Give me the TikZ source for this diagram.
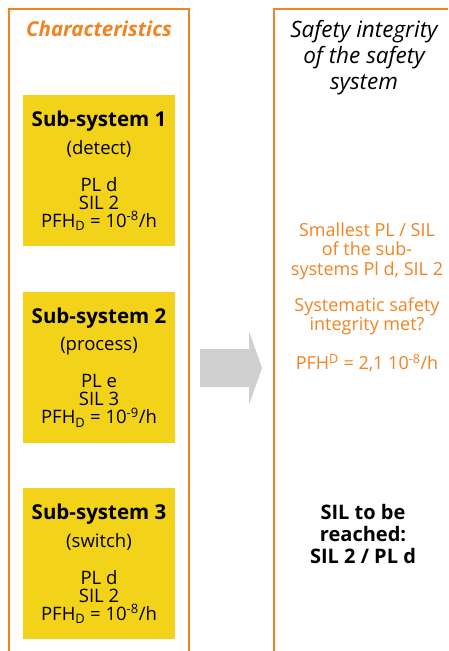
\documentclass[tikz,border=0pt]{standalone}
\usepackage{fontspec}
\setmainfont{Open Sans}
\definecolor{sysorange}{RGB}{243,130,32}
\definecolor{sysyellow}{RGB}{243,210,26}
\definecolor{arrowgray}{RGB}{208,208,208}

\begin{document}
\begin{tikzpicture}[x=1pt, y=-1pt,
    panel/.style={draw=sysorange, line width=1.6pt},
    subsys/.style={fill=sysyellow, minimum width=152pt, minimum height=151pt, inner sep=0pt, align=center, font=\fontsize{18.5}{18}\selectfont},
    heading/.style={font=\fontsize{22.5}{26}\selectfont\itshape, align=center},
    result/.style={font=\fontsize{18}{19.5}\selectfont, align=center},
]
    \useasboundingbox (0,0) rectangle (448,651);

    % the two columns
    \draw[panel] (9,651) |- (189,9) -- (189,651);
    \draw[panel] (274,651) |- (448,9);

    \node[heading, text=sysorange, font=\fontsize{20.5}{26}\selectfont\bfseries\itshape] (char) at (99,29) {Characteristics};
    \node[heading] (integ) at (364,58) {Safety integrity\\of the safety\\system};

    \node[subsys] (sub1) at (99,170.5) {{\fontsize{20.5}{20}\selectfont\bfseries Sub-system 1}\\[8pt](detect)\\[19pt]PL d\\SIL 2\\PFH\textsubscript{D} = 10\textsuperscript{-8}/h};
    \node[subsys] (sub2) at (99,367.5) {{\fontsize{20.5}{20}\selectfont\bfseries Sub-system 2}\\[8pt](process)\\[19pt]PL e\\SIL 3\\PFH\textsubscript{D} = 10\textsuperscript{-9}/h};
    \node[subsys] (sub3) at (99,563.5) {{\fontsize{20.5}{20}\selectfont\bfseries Sub-system 3}\\[8pt](switch)\\[19pt]PL d\\SIL 2\\PFH\textsubscript{D} = 10\textsuperscript{-8}/h};

    \fill[arrowgray] (200,349) -- (249,349) -- (249,331) -- (262,368) -- (249,405) -- (249,387) -- (200,387) -- cycle;

    \node[result, text=sysorange] (smallest) at (367,251) {Smallest PL / SIL\\of the sub-\\systems Pl d, SIL 2};
    \node[result, text=sysorange] (sysint) at (367,316.5) {Systematic safety\\integrity met?};
    \node[result, text=sysorange] (pfh) at (367,363) {PFH\textsuperscript{D} = 2,1 10\textsuperscript{-8}/h};
    \node[result, font=\fontsize{20}{22}\selectfont\bfseries] (target) at (363,534) {SIL to be\\reached:\\SIL 2 / PL d};
\end{tikzpicture}
\end{document}
